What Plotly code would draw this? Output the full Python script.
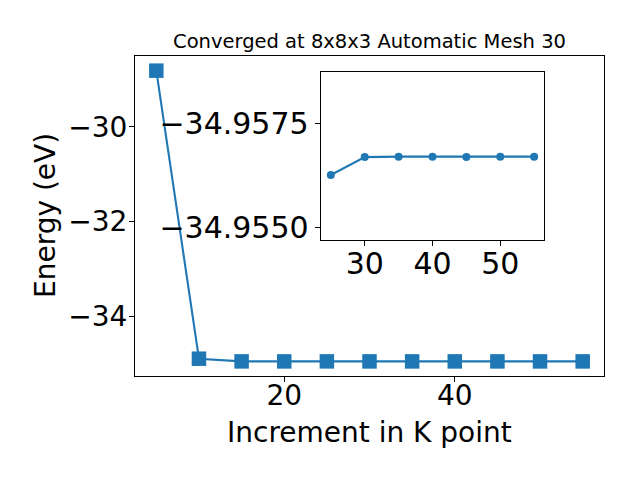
import plotly.graph_objects as go

# Main data
kpoints = [5, 10, 15, 20, 25, 30, 35, 40, 45, 50, 55]
energy = [-28.81, -34.90, -34.9565, -34.9566, -34.95626, -34.95669, -34.9567, -34.9567, -34.95669, -34.9567, -34.9567]

# Inset data
inset_k = [25, 30, 35, 40, 45, 50, 55]
inset_e = [-34.95626, -34.95669, -34.9567, -34.9567, -34.95669, -34.9567, -34.9567]

inset_ticks = [-34.9575, -34.9550]
main_xticks = [20, 40]
main_yticks = [-30, -32, -34]
inset_xticks = [30, 40, 50]

BLUE = "#1f77b4"
FONT = "DejaVu Sans"
W, H = 640, 480
OFF = 8  # browser body margin


def px(x):
    return (x - OFF) / W


def py(y):
    return (H - (y - OFF)) / H


fig = go.Figure()
fig.add_trace(go.Scatter(
    x=kpoints, y=energy, mode="lines+markers",
    line=dict(color=BLUE, width=2.1),
    marker=dict(symbol="square", size=14.5, color=BLUE),
    xaxis="x", yaxis="y", showlegend=False,
))
fig.add_trace(go.Scatter(
    x=inset_k, y=inset_e, mode="lines+markers",
    line=dict(color=BLUE, width=2.1),
    marker=dict(symbol="circle", size=8, color=BLUE),
    xaxis="x2", yaxis="y2", showlegend=False,
))


def axis_common(size):
    return dict(
        showgrid=False, zeroline=False, showline=True, linecolor="black", linewidth=1.1,
        mirror=True, ticks="outside", ticklen=5, tickwidth=1.1, tickcolor="black",
        tickfont=dict(family=FONT, size=size, color="black"), automargin=False,
    )


fig.update_layout(
    width=W, height=H,
    margin=dict(l=0, r=0, t=0, b=0),
    paper_bgcolor="white", plot_bgcolor="white",
    font=dict(family=FONT, color="black"),
    title=dict(text="Converged at 8x8x3 Automatic Mesh 30",
               x=px(369.5), xanchor="center", y=py(41.5), yanchor="middle",
               font=dict(family=FONT, size=19.5, color="black")),
    xaxis=dict(axis_common(28), domain=[px(135), px(604)], range=[2.5, 57.5],
               tickvals=main_xticks, ticklabelstandoff=-11, anchor="y"),
    yaxis=dict(axis_common(28), domain=[py(376), py(56)], range=[-35.2655, -28.5],
               tickvals=main_yticks, ticklabelstandoff=-4, anchor="x"),
    xaxis2=dict(axis_common(30), domain=[px(320.7), px(544.3)], range=[23.5, 56.5],
                tickvals=inset_xticks, ticklabelstandoff=-8, anchor="y2"),
    yaxis2=dict(axis_common(30), domain=[py(240), py(72.3)],
                range=[-34.954705, -34.95872],
                tickvals=inset_ticks, tickformat=".4f", ticklabelstandoff=0, anchor="x2"),
    annotations=[
        dict(text="Increment in K point", x=px(369.5), y=py(432), xref="paper", yref="paper",
             xanchor="center", yanchor="middle", showarrow=False,
             font=dict(family=FONT, size=28, color="black")),
        dict(text="Energy (eV)", x=px(45), y=py(216), xref="paper", yref="paper",
             xanchor="center", yanchor="middle", showarrow=False, textangle=-90,
             font=dict(family=FONT, size=28, color="black")),
    ],
)

fig.write_html("out.html")
